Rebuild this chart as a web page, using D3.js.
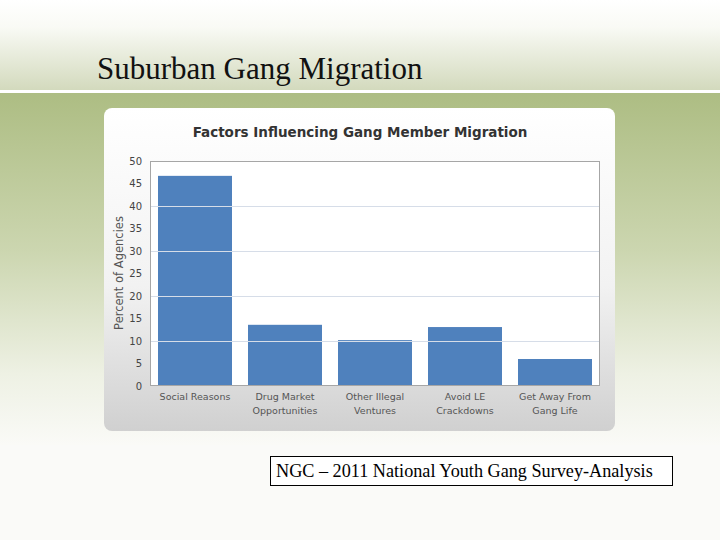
<!DOCTYPE html>
<html><head><meta charset="utf-8">
<script src="https://cdn.jsdelivr.net/npm/d3@7"></script>
<style>html,body{margin:0;padding:0;background:#fff;}svg{display:block;}</style>
</head><body>
<script>
const categories = [["Social Reasons"],["Drug Market","Opportunities"],["Other Illegal","Ventures"],["Avoid LE","Crackdowns"],["Get Away From","Gang Life"]];
const values = [46.7, 13.6, 10.2, 13.1, 6.0];
const yTicks = [0,5,10,15,20,25,30,35,40,45,50];
const gridTicks = [10,20,30,40];
const slideTitle = "Suburban Gang Migration";
const chartTitle = "Factors Influencing Gang Member Migration";
const yLabel = "Percent of Agencies";
const footer = "NGC – 2011 National Youth Gang Survey-Analysis";

const W=720,H=540;
const svg=d3.select("body").append("svg").attr("width",W).attr("height",H);
const defs=svg.append("defs");
const g1=defs.append("linearGradient").attr("id","topg").attr("x1",0).attr("y1",0).attr("x2",0).attr("y2",1);
g1.append("stop").attr("offset",0).attr("stop-color","#ffffff");
g1.append("stop").attr("offset",0.3).attr("stop-color","#f9faf5");
g1.append("stop").attr("offset",1).attr("stop-color","#d3dabd");
const g2=defs.append("linearGradient").attr("id","botg").attr("x1",0).attr("y1",0).attr("x2",0).attr("y2",1);
g2.append("stop").attr("offset",0).attr("stop-color","#adbd83");
g2.append("stop").attr("offset",0.45).attr("stop-color","#ccd6b0");
g2.append("stop").attr("offset",0.8).attr("stop-color","#eef1e4");
g2.append("stop").attr("offset",1).attr("stop-color","#fafaf7");
const g3=defs.append("linearGradient").attr("id","panelg").attr("x1",0).attr("y1",0).attr("x2",0).attr("y2",1);
g3.append("stop").attr("offset",0).attr("stop-color","#ffffff");
g3.append("stop").attr("offset",0.55).attr("stop-color","#f2f2f2");
g3.append("stop").attr("offset",1).attr("stop-color","#d0d0d0");

svg.append("rect").attr("x",0).attr("y",0).attr("width",W).attr("height",90).attr("fill","url(#topg)");
svg.append("rect").attr("x",0).attr("y",90).attr("width",W).attr("height",3).attr("fill","#ffffff");
svg.append("rect").attr("x",0).attr("y",93).attr("width",W).attr("height",352).attr("fill","url(#botg)");
svg.append("rect").attr("x",0).attr("y",445).attr("width",W).attr("height",95).attr("fill","#fafaf8");

svg.append("text").attr("x",97).attr("y",79).attr("font-family","Liberation Serif, serif")
  .attr("font-size",31).attr("fill","#111").text(slideTitle);

// panel
svg.append("rect").attr("x",104).attr("y",108).attr("width",511).attr("height",323).attr("rx",8)
  .attr("fill","url(#panelg)");

svg.append("text").attr("x",360).attr("y",137).attr("text-anchor","middle")
  .attr("font-family","DejaVu Sans, Verdana, sans-serif").attr("font-weight","bold")
  .attr("font-size",13.5).attr("fill","#333").text(chartTitle);

const x0=150,x1=600,yTop=161,yBot=386;
const x=d3.scaleBand().domain(d3.range(values.length)).range([x0,x1]).paddingInner(16/90).paddingOuter(8/90);
const y=d3.scaleLinear().domain([0,50]).range([yBot,yTop]);

svg.append("rect").attr("x",x0).attr("y",yTop).attr("width",x1-x0).attr("height",yBot-yTop)
  .attr("fill","#fff");

svg.append("g").selectAll("rect").data(values).join("rect")
  .attr("x",(d,i)=>x(i)).attr("width",x.bandwidth())
  .attr("y",d=>y(d)).attr("height",d=>yBot-y(d)).attr("fill","#4f81bd");

svg.append("g").selectAll("line").data(gridTicks).join("line")
  .attr("x1",x0).attr("x2",x1).attr("y1",d=>Math.round(y(d))+0.5).attr("y2",d=>Math.round(y(d))+0.5)
  .attr("stroke","#d6dde8").attr("stroke-width",1);

svg.append("rect").attr("x",x0+0.5).attr("y",yTop+0.5).attr("width",x1-x0-1).attr("height",yBot-yTop-1)
  .attr("fill","none").attr("stroke","#a6a6a6");

const ya=svg.append("g").attr("transform",`translate(${x0},0)`)
  .call(d3.axisLeft(y).tickValues(yTicks).tickSize(0).tickPadding(8));
ya.select(".domain").remove();
ya.selectAll("text").attr("font-family","DejaVu Sans, Verdana, sans-serif").attr("font-size",10).attr("fill","#444");

svg.append("text").attr("transform","translate(123,273) rotate(-90)").attr("text-anchor","middle")
  .attr("font-family","DejaVu Sans, Verdana, sans-serif").attr("font-size",11.5).attr("fill","#555").text(yLabel);

const xl=svg.append("g");
categories.forEach((lines,i)=>{
  const t=xl.append("text").attr("x",x(i)+x.bandwidth()/2).attr("y",400).attr("text-anchor","middle")
    .attr("font-family","DejaVu Sans, Verdana, sans-serif").attr("font-size",9.5).attr("fill","#555");
  lines.forEach((l,j)=>t.append("tspan").attr("x",x(i)+x.bandwidth()/2).attr("dy",j?14:0).text(l));
});

svg.append("rect").attr("x",270.5).attr("y",456.5).attr("width",402).attr("height",29)
  .attr("fill","#fff").attr("stroke","#000");
svg.append("text").attr("x",276).attr("y",477).attr("font-family","Liberation Serif, serif")
  .attr("font-size",18.2).attr("fill","#000").text(footer);
</script>
</body></html>
